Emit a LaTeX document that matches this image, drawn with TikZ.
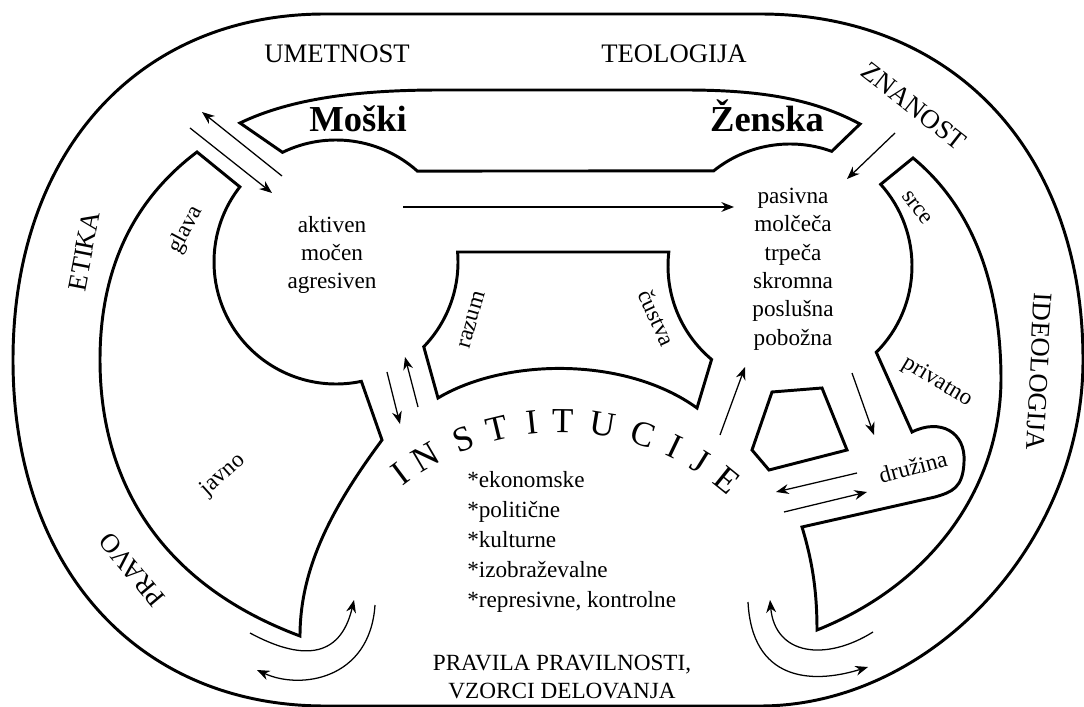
\documentclass[tikz,border=0pt]{standalone}
\usepackage{fontspec}
\setmainfont{Liberation Serif}
\usetikzlibrary{arrows.meta,calc}
\tikzset{
  wall/.style = {line width=2.1pt},
  arr/.style  = {-{Stealth[length=9pt,width=7pt]}, line width=0.9pt},
  ring/.style = {font=\fontsize{19}{23}\selectfont, inner sep=0pt},
  lab/.style  = {font=\fontsize{16.5}{20.2}\selectfont, inner sep=0pt},
  sex/.style  = {font=\fontsize{26}{30}\selectfont\bfseries, inner sep=0pt, anchor=base},
  inst/.style = {font=\fontsize{25}{28}\selectfont, inner sep=0pt}
}

\begin{document}
\begin{tikzpicture}[x=0.025cm, y=-0.025cm]
  \useasboundingbox (0,0) rectangle (1084,707);
  \coordinate (mc) at (336,262);
  \coordinate (fc) at (790,266);

  % outer ring
  \draw[wall] (325,14) -- (760,14) .. controls (954,14) and (1083,152) .. (1083,360)
    .. controls (1083,543) and (931,706) .. (760,706) -- (325,706)
    .. controls (138,706) and (13,568) .. (13,360)
    .. controls (13,152) and (138,14) .. (325,14) -- cycle;

  % Moski - Zenska bar
  \draw[wall] (240,123) -- ([shift={(mc)}]-116:122) arc[start angle=-116, end angle=-48.2, radius=122]
    -- ([shift={(fc)}]-128.8:122) arc[start angle=-128.8, end angle=-70, radius=122]
    -- (860,124) .. controls (815,100) and (765,90) .. (685,90) -- (440,90)
    .. controls (360,90) and (292,98) .. (240,123) -- cycle;

  % glava / javno
  \draw[wall] (197,152) -- ([shift={(mc)}]-142:122) arc[start angle=-142, end angle=-282, radius=122]
    -- (382,440) .. controls (330,510) and (300,570) .. (300,636)
    .. controls (150,580) and (100,470) .. (100,360)
    .. controls (100,260) and (140,195) .. (197,152) -- cycle;

  % srce / privatno / druzina
  \draw[wall] (913,158) -- ([shift={(fc)}]-42:122) arc[start angle=-42, end angle=45, radius=122]
    -- (912,432) .. controls (940,418) and (966,432) .. (964,462)
    .. controls (963,488) and (952,492) .. (935,497) -- (802,527)
    .. controls (812,560) and (817,590) .. (817,630)
    .. controls (930,585) and (1000,490) .. (1001,380)
    .. controls (1001,280) and (970,205) .. (913,158) -- cycle;

  % razum / custva
  \draw[wall] ([shift={(mc)}]-4.7:122) -- ([shift={(fc)}]186.6:122)
    arc[start angle=186.6, end angle=130, radius=122] -- (697,408)
    .. controls (625,356) and (505,358) .. (438,398)
    -- ([shift={(mc)}]44:122) arc[start angle=44, end angle=-4.7, radius=122] -- cycle;

  % druzina
  \draw[wall] (772,392) -- (822,388) -- (847,450) -- (769,470) -- (752,450) -- cycle;

  % arrows
  \coordinate (gl1) at (282,176); \coordinate (gl2) at (202,112);
  \coordinate (gl3) at (190,128); \coordinate (gl4) at (272,193);
  \coordinate (mz1) at (403,207); \coordinate (mz2) at (734,207);
  \coordinate (zn1) at (895,133); \coordinate (zn2) at (847,179);
  \coordinate (in1) at (387,372); \coordinate (in2) at (400,424);
  \coordinate (in3) at (418,407); \coordinate (in4) at (405,357);
  \coordinate (in5) at (720,435); \coordinate (in6) at (745,367);
  \coordinate (dr1) at (852,373); \coordinate (dr2) at (874,435);
  \coordinate (dr3) at (857,473); \coordinate (dr4) at (776,492);
  \coordinate (dr5) at (784,512); \coordinate (dr6) at (867,492);
  \coordinate (pl1) at (250,633); \coordinate (pl2) at (354,600);
  \coordinate (pl3) at (375,605); \coordinate (pl4) at (257,670);
  \coordinate (pr1) at (873,632); \coordinate (pr2) at (770,600);
  \coordinate (pr3) at (748,602); \coordinate (pr4) at (868,667);
  \draw[arr] (gl1) -- (gl2);
  \draw[arr] (gl3) -- (gl4);
  \draw[arr] (mz1) -- (mz2);
  \draw[arr] (zn1) -- (zn2);
  \draw[arr] (in1) -- (in2);
  \draw[arr] (in3) -- (in4);
  \draw[arr] (in5) -- (in6);
  \draw[arr] (dr1) -- (dr2);
  \draw[arr] (dr3) -- (dr4);
  \draw[arr] (dr5) -- (dr6);
  \draw[arr] (pl1) .. controls (300,660) and (340,660) .. (pl2);
  \draw[arr] (pl3) .. controls (370,680) and (300,690) .. (pl4);
  \draw[arr] (pr1) .. controls (825,662) and (775,655) .. (pr2);
  \draw[arr] (pr3) .. controls (752,680) and (810,685) .. (pr4);

  % texts
  \node[ring] (umet) at (337,54) {UMETNOST};
  \node[ring] (teol) at (674,54) {TEOLOGIJA};
  \node[ring, rotate=-38] (znan) at (914,106) {ZNANOST};
  \node[ring, rotate=79] (etik) at (84,251) {ETIKA};
  \node[ring, rotate=-93] (ideo) at (1039,372) {IDEOLOGIJA};
  \node[ring, rotate=130] (prav) at (132,570) {PRAVO};
  \node[sex] (moski) at (358,132) {Moški};
  \node[sex] (zenska) at (767,132) {Ženska};
  \node[lab, align=center] (mtxt) at (332,255) {aktiven\\močen\\agresiven};
  \node[lab, align=center] (ztxt) at (793,269) {pasivna\\molčeča\\trpeča\\skromna\\poslušna\\pobožna};
  \node[lab, rotate=62] (glava) at (186,230) {glava};
  \node[lab, rotate=74] (razum) at (472,320) {razum};
  \node[lab, rotate=-65] (custva) at (657,318) {čustva};
  \node[lab, rotate=-52] (srce) at (917,208) {srce};
  \node[lab, rotate=-31] (privat) at (937,382) {privatno};
  \node[lab, rotate=42] (javno) at (223,475) {javno};
  \node[lab, rotate=15] (druz) at (913,467) {družina};
  \foreach \ch/\ang [count=\i] in {I/126.8, N/120.4, S/111.4, T/103.6, I/96, T/89.4,
                                  U/80.7, C/71.8, I/64.4, J/58.1, E/51.1}{
    \node[inst, rotate=\ang-90] (inst\i) at ({560+266*cos(\ang)},{687-266*sin(\ang)}) {\ch};
  }
  \node[lab, font=\fontsize{16.5}{21.2}\selectfont, align=left, anchor=west] (vrste) at (467,542)
    {*ekonomske\\*politične\\*kulturne\\*izobraževalne\\*represivne, kontrolne};
  \node[lab, align=center] (pravila) at (562,677) {PRAVILA PRAVILNOSTI,\\VZORCI DELOVANJA};
\end{tikzpicture}
\end{document}
